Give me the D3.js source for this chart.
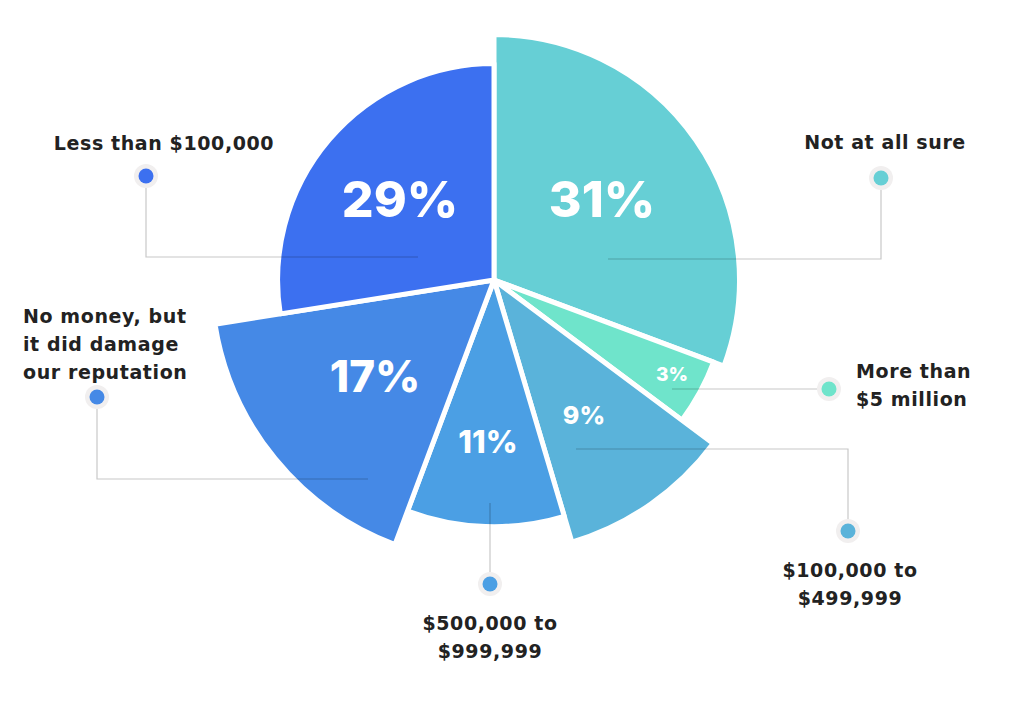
<!DOCTYPE html>
<html>
<head>
<meta charset="utf-8">
<script src="https://cdn.jsdelivr.net/npm/d3@7/dist/d3.min.js"></script>
<style>
  html, body { margin: 0; padding: 0; background: #ffffff; }
  svg { display: block; }
  text.pct { font-family: Inter, "Open Sans", sans-serif; font-weight: 800; }
  text.cat { font-family: "DejaVu Sans", sans-serif; font-weight: 700; letter-spacing: 0.6px; }
</style>
</head>
<body>
<svg id="chart" width="1024" height="723"></svg>
<script>
// ---- data ----
const categories = [
  "Not at all sure",
  "More than $5 million",
  "$100,000 to $499,999",
  "$500,000 to $999,999",
  "No money, but it did damage our reputation",
  "Less than $100,000"
];
const labelLines = [
  ["Not at all sure"],
  ["More than", "$5 million"],
  ["$100,000 to", "$499,999"],
  ["$500,000 to", "$999,999"],
  ["No money, but", "it did damage", "our reputation"],
  ["Less than $100,000"]
];
const percentLabels = [31, 3, 9, 11, 17, 29];
// angular share of each slice as drawn in the picture
const angleShare = [30.7, 4.5, 10.2, 10.3, 16.8, 27.5];
// relative depth of each slice (radius)
const radiusIndex = [86.9, 83.0, 96.8, 87.3, 100, 76.6];
const colors = ["#66cfd5", "#6fe4cb", "#5ab3da", "#4b9fe4", "#4589e6", "#3c70f0"];

// ---- layout (annotation placement) ----
const center = [494, 280];
const maxRadius = 282.5;
const layout = [
  { pct: [602, 217], pctSize: 50, path: [[608,259],[881,259],[881,190]], dot: [881,178], text: [885,149], anchor: "middle" },
  { pct: [672, 381], pctSize: 19, path: [[672,389],[817,389]], dot: [829,389], text: [856,378], anchor: "start" },
  { pct: [584, 424], pctSize: 25, path: [[576,449],[848,449],[848,519]], dot: [848,531], text: [850,577], anchor: "middle" },
  { pct: [488, 453], pctSize: 31, path: [[490,503],[490,572]], dot: [490,584], text: [490,630], anchor: "middle" },
  { pct: [375, 392], pctSize: 44, path: [[368,479],[97,479],[97,409]], dot: [97,397], text: [23,323], anchor: "start" },
  { pct: [400, 217], pctSize: 50, path: [[418,257],[146,257],[146,188]], dot: [146,176], text: [164,150], anchor: "middle" }
];

const svg = d3.select("#chart");
const data = categories.map((c, i) => ({
  category: c, pct: percentLabels[i], share: angleShare[i],
  depth: radiusIndex[i], color: colors[i], lines: labelLines[i], lay: layout[i]
}));

const rScale = d3.scaleLinear().domain([0, 100]).range([0, maxRadius]);
const pie = d3.pie().value(d => d.share).sort(null);
const arcs = pie(data);

const g = svg.append("g").attr("transform", `translate(${center[0]},${center[1]})`);
g.selectAll("path.slice")
  .data(arcs)
  .join("path")
  .attr("class", "slice")
  .attr("d", d => d3.arc().innerRadius(0).outerRadius(rScale(d.data.depth))(d))
  .attr("fill", d => d.data.color)
  .attr("stroke", "#ffffff")
  .attr("stroke-width", 5)
  .attr("stroke-linejoin", "round");

// percent labels
svg.selectAll("text.pct")
  .data(data)
  .join("text")
  .attr("class", "pct")
  .attr("x", d => d.lay.pct[0])
  .attr("y", d => d.lay.pct[1])
  .attr("text-anchor", "middle")
  .attr("fill", "#ffffff")
  .attr("font-size", d => d.lay.pctSize)
  .text(d => d.pct + "%");

// callout lines
const line = d3.line();
svg.selectAll("path.callout")
  .data(data)
  .join("path")
  .attr("class", "callout")
  .attr("d", d => line(d.lay.path))
  .attr("fill", "none")
  .attr("stroke", "rgba(0,0,0,0.22)")
  .attr("stroke-width", 1.2);

// dots
svg.selectAll("circle.halo")
  .data(data)
  .join("circle")
  .attr("class", "halo")
  .attr("cx", d => d.lay.dot[0])
  .attr("cy", d => d.lay.dot[1])
  .attr("r", 12)
  .attr("fill", "#f1efef");
svg.selectAll("circle.dot")
  .data(data)
  .join("circle")
  .attr("class", "dot")
  .attr("cx", d => d.lay.dot[0])
  .attr("cy", d => d.lay.dot[1])
  .attr("r", 7.5)
  .attr("fill", d => d.color);

// category labels
const labels = svg.selectAll("text.cat")
  .data(data)
  .join("text")
  .attr("class", "cat")
  .attr("x", d => d.lay.text[0])
  .attr("y", d => d.lay.text[1])
  .attr("text-anchor", d => d.lay.anchor)
  .attr("fill", "#222222")
  .attr("font-size", 19);
labels.selectAll("tspan")
  .data(d => d.lines.map((t, i) => ({ t, i, x: d.lay.text[0] })))
  .join("tspan")
  .attr("x", d => d.x)
  .attr("dy", d => d.i === 0 ? 0 : 28)
  .text(d => d.t);
</script>
</body>
</html>
